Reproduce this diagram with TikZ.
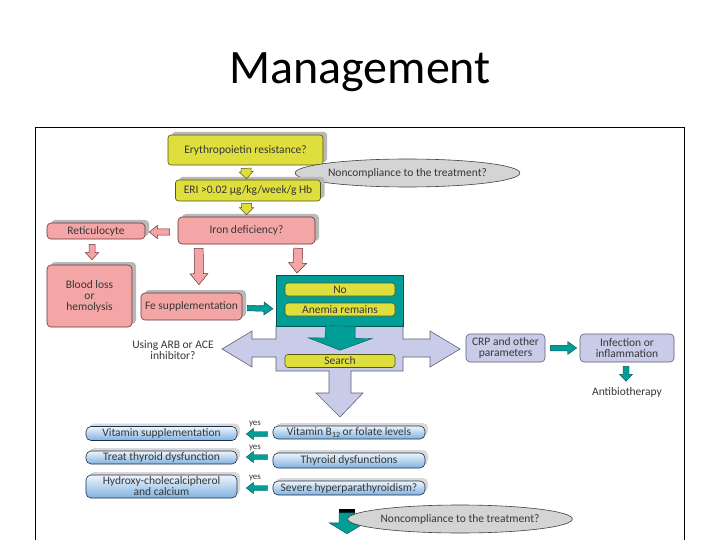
\documentclass[tikz,border=0pt]{standalone}
\usepackage{fontspec}
\setmainfont{Carlito}
\usetikzlibrary{calc,shadows,shapes.geometric}
\definecolor{yel}{RGB}{222,222,60}
\definecolor{yelD}{RGB}{85,85,20}
\definecolor{pnk}{RGB}{244,166,166}
\definecolor{pnkD}{RGB}{110,50,50}
\definecolor{teal1}{RGB}{0,158,150}
\definecolor{tealD}{RGB}{0,85,80}
\definecolor{lav}{RGB}{200,204,232}
\definecolor{lavD}{RGB}{95,95,115}
\definecolor{ellF}{RGB}{212,212,212}
\definecolor{txtc}{RGB}{55,55,55}
\definecolor{bluT}{RGB}{238,245,252}
\definecolor{bluB}{RGB}{128,178,224}
\definecolor{bluD}{RGB}{30,45,75}
\newcommand\blockarrow[6]{%
  \coordinate (hb) at ($(#3)!#6!(#2)$);
  \path[#1] ($(#2)!#4!90:(#3)$) -- ($(hb)!#4!90:(#3)$) -- ($(hb)!#5!90:(#3)$) -- (#3)
    -- ($(hb)!#5!-90:(#3)$) -- ($(hb)!#4!-90:(#3)$) -- ($(#2)!#4!-90:(#3)$) -- cycle;}
\tikzset{
  txt/.style={font=\fontsize{11.5}{11}\selectfont, text=txtc, inner sep=0pt, align=center},
  shad/.style={drop shadow={shadow xshift=4pt, shadow yshift=3pt, fill=black!28, opacity=1}},
  ybox/.style={txt, draw=yelD, fill=yel, rounded corners=3pt, line width=0.6pt, shad},
  ybar/.style={txt, draw=yelD, fill=yel, rounded corners=3pt, line width=0.6pt, minimum width=110, minimum height=13},
  pbox/.style={txt, draw=pnkD, fill=pnk, rounded corners=4pt, line width=0.6pt, shad},
  lbox/.style={txt, draw=lavD, fill=lav, rounded corners=4pt, line width=0.6pt},
  bbox/.style={txt, draw=bluD, top color=bluT, bottom color=bluB, rounded corners=5pt, line width=0.6pt,
     drop shadow={shadow xshift=3pt, shadow yshift=3pt, fill=black!15, opacity=1}},
  ell/.style={txt, ellipse, draw=black!75, fill=ellF, line width=0.6pt},
  yarr/.style={draw=yelD, fill=yel, line width=0.5pt},
  parr/.style={draw=pnkD, fill=pnk, line width=0.5pt},
  tarr/.style={draw=tealD, fill=teal1, line width=0.4pt},
  lavshape/.style={draw=lavD, fill=lav, line width=0.6pt},
}
\begin{document}
\begin{tikzpicture}[x=1pt,y=-1pt]
\useasboundingbox (0,0) rectangle (720,540);
\fill[white] (0,0) rectangle (720,540);
\node[font=\fontsize{48}{48}\selectfont, anchor=base, inner sep=0pt] (title) at (360,84) {Management};
\draw[line width=0.8pt] (35,545) -- (35,127) -- (684,127) -- (684,545);

% top column
\node[ybox, minimum width=155, minimum height=30] (ery) at (245.5,150) {Erythropoietin resistance?};
\node[ell, minimum width=177, minimum height=28] (nc1) at (407.5,173) {Noncompliance to the treatment?};
\node[ybox, minimum width=145, minimum height=21] (eri) at (248,190.5) {ERI >0.02 µg/kg/week/g Hb};
\node[pbox, minimum width=137, minimum height=27] (iron) at (246.5,230.5) {Iron deficiency?};
\node[pbox, minimum width=98, minimum height=16] (retic) at (96,231) {Reticulocyte};
\node[pbox, minimum width=85, minimum height=62] (blood) at (89.5,296) {Blood loss\\or\\hemolysis};
\node[pbox, minimum width=101, minimum height=27] (fe) at (191.5,306.5) {Fe supplementation};

% yellow arrows
\coordinate (y1s) at ($(ery.south)+(0.5,3)$);
\coordinate (y1e) at ($(eri.north)+(-1.5,-1)$);
\blockarrow{yarr}{y1s}{y1e}{5pt}{7pt}{7pt}
\coordinate (y2s) at ($(eri.south)+(-1.5,2)$);
\coordinate (y2e) at ($(iron.north)+(0,-2)$);
\blockarrow{yarr}{y2s}{y2e}{5pt}{7pt}{7pt}

% pink arrows
\coordinate (p1s) at ($(iron.west)+(-8,1.5)$);
\coordinate (p1e) at ($(retic.east)+(4,1)$);
\blockarrow{parr}{p1s}{p1e}{3pt}{6.5pt}{8pt}
\coordinate (p2s) at ($(retic.south)+(-4,5)$);
\coordinate (p2e) at ($(blood.north)+(2.5,-5)$);
\blockarrow{parr}{p2s}{p2e}{3pt}{6.5pt}{7pt}
\coordinate (p3s) at ($(iron.south west)+(21,4)$);
\coordinate (p3e) at ($(fe.north)+(7.5,-8)$);
\blockarrow{parr}{p3s}{p3e}{4.5pt}{9pt}{11pt}

% central cross
\draw[lavshape] (276,326) -- (403,326) -- (403,339) -- (430,339) -- (430,331) -- (460,349)
  -- (430,367) -- (430,357) -- (403,357) -- (403,371) -- (351,371) -- (351,393) -- (363,393)
  -- (340,417) -- (316,393) -- (329,393) -- (329,371) -- (276,371) -- (276,357) -- (252,357)
  -- (252,367) -- (222,349) -- (252,331) -- (252,339) -- (276,339) -- cycle;
\node[draw=tealD, fill=teal1, line width=0.6pt, minimum width=127, minimum height=51, inner sep=0pt, anchor=north west] (tbox) at (276,275) {};
\coordinate (p4s) at ($(iron.south east)+(-17,4)$);
\coordinate (p4e) at ($(tbox.north west)+(21,-2)$);
\blockarrow{parr}{p4s}{p4e}{4.5pt}{9pt}{10pt}
\node[ybar] (no) at (340,289.5) {No};
\node[ybar] (anem) at (340,309.5) {Anemia remains};
\node[ybar] (search) at (340,361) {Search};
\coordinate (t0s) at ($(tbox.south)+(0.5,-0.6)$);
\coordinate (t0e) at ($(search.north)+(0,-4)$);
\blockarrow{tarr}{t0s}{t0e}{15pt}{32pt}{12pt}
\coordinate (t1s) at ($(fe.east)+(5,1.5)$);
\coordinate (t1e) at ($(tbox.west)+(-3,8)$);
\blockarrow{tarr}{t1s}{t1e}{2.8pt}{6.5pt}{9pt}
\node[txt] (arb) at (173,350) {Using ARB or ACE\\inhibitor?};

% right branch
\node[lbox, minimum width=79, minimum height=28] (crp) at (505.5,348) {CRP and other\\parameters};
\node[lbox, minimum width=94, minimum height=28] (inf) at (627,348) {Infection or\\inflammation};
\node[txt] (anti) at (627,392) {Antibiotherapy};
\coordinate (t2s) at ($(crp.east)+(5,0)$);
\coordinate (t2e) at ($(inf.west)+(-3,0)$);
\blockarrow{tarr}{t2s}{t2e}{2.8pt}{6.5pt}{9pt}
\coordinate (t3s) at ($(inf.south)+(-1,4)$);
\coordinate (t3e) at ($(inf.south)+(-1,19)$);
\blockarrow{tarr}{t3s}{t3e}{3pt}{6.5pt}{7pt}

% bottom
\node[bbox, minimum width=151, minimum height=14] (vit) at (161.5,433.5) {Vitamin supplementation};
\node[bbox, minimum width=151, minimum height=13] (treat) at (161.5,457.5) {Treat thyroid dysfunction};
\node[bbox, minimum width=151, minimum height=23] (hyd) at (161.5,486.5) {Hydroxy-cholecalcipherol\\and calcium};
\node[bbox, minimum width=152, minimum height=13] (b12) at (349,432.5) {Vitamin B\raisebox{-1.5pt}{\fontsize{8}{8}\selectfont 12} or folate levels};
\node[bbox, minimum width=152, minimum height=15] (thy) at (349,460.5) {Thyroid dysfunctions};
\node[bbox, minimum width=152, minimum height=14] (sev) at (349,488) {Severe hyperparathyroidism?};
\node[txt, font=\fontsize{9}{9}\selectfont] (yes1) at (255,424) {yes};
\node[txt, font=\fontsize{9}{9}\selectfont] (yes2) at (255,448) {yes};
\node[txt, font=\fontsize{9}{9}\selectfont] (yes3) at (255,478) {yes};
\coordinate (b1s) at ($(b12.west)+(-5,1.5)$);
\coordinate (b1e) at ($(vit.east)+(9,0.5)$);
\blockarrow{tarr}{b1s}{b1e}{2.5pt}{5.5pt}{7pt}
\coordinate (b2s) at ($(thy.west)+(-5,-3.5)$);
\coordinate (b2e) at ($(treat.east)+(9,-0.5)$);
\blockarrow{tarr}{b2s}{b2e}{2.5pt}{5.5pt}{7pt}
\coordinate (b3s) at ($(sev.west)+(-5,0)$);
\coordinate (b3e) at ($(hyd.east)+(9,1.5)$);
\blockarrow{tarr}{b3s}{b3e}{2.5pt}{5.5pt}{7pt}

\fill[black] ($(sev.south)+(-10,13.5)$) rectangle ($(sev.south)+(6,17.5)$);
\coordinate (t4s) at ($(sev.south)+(-2,17.5)$);
\coordinate (t4e) at ($(sev.south)+(-2,38.5)$);
\blockarrow{tarr}{t4s}{t4e}{8pt}{18pt}{11pt}
\node[ell, minimum width=180, minimum height=28] (nc2) at (460,519) {Noncompliance to the treatment?};
\end{tikzpicture}
\end{document}
